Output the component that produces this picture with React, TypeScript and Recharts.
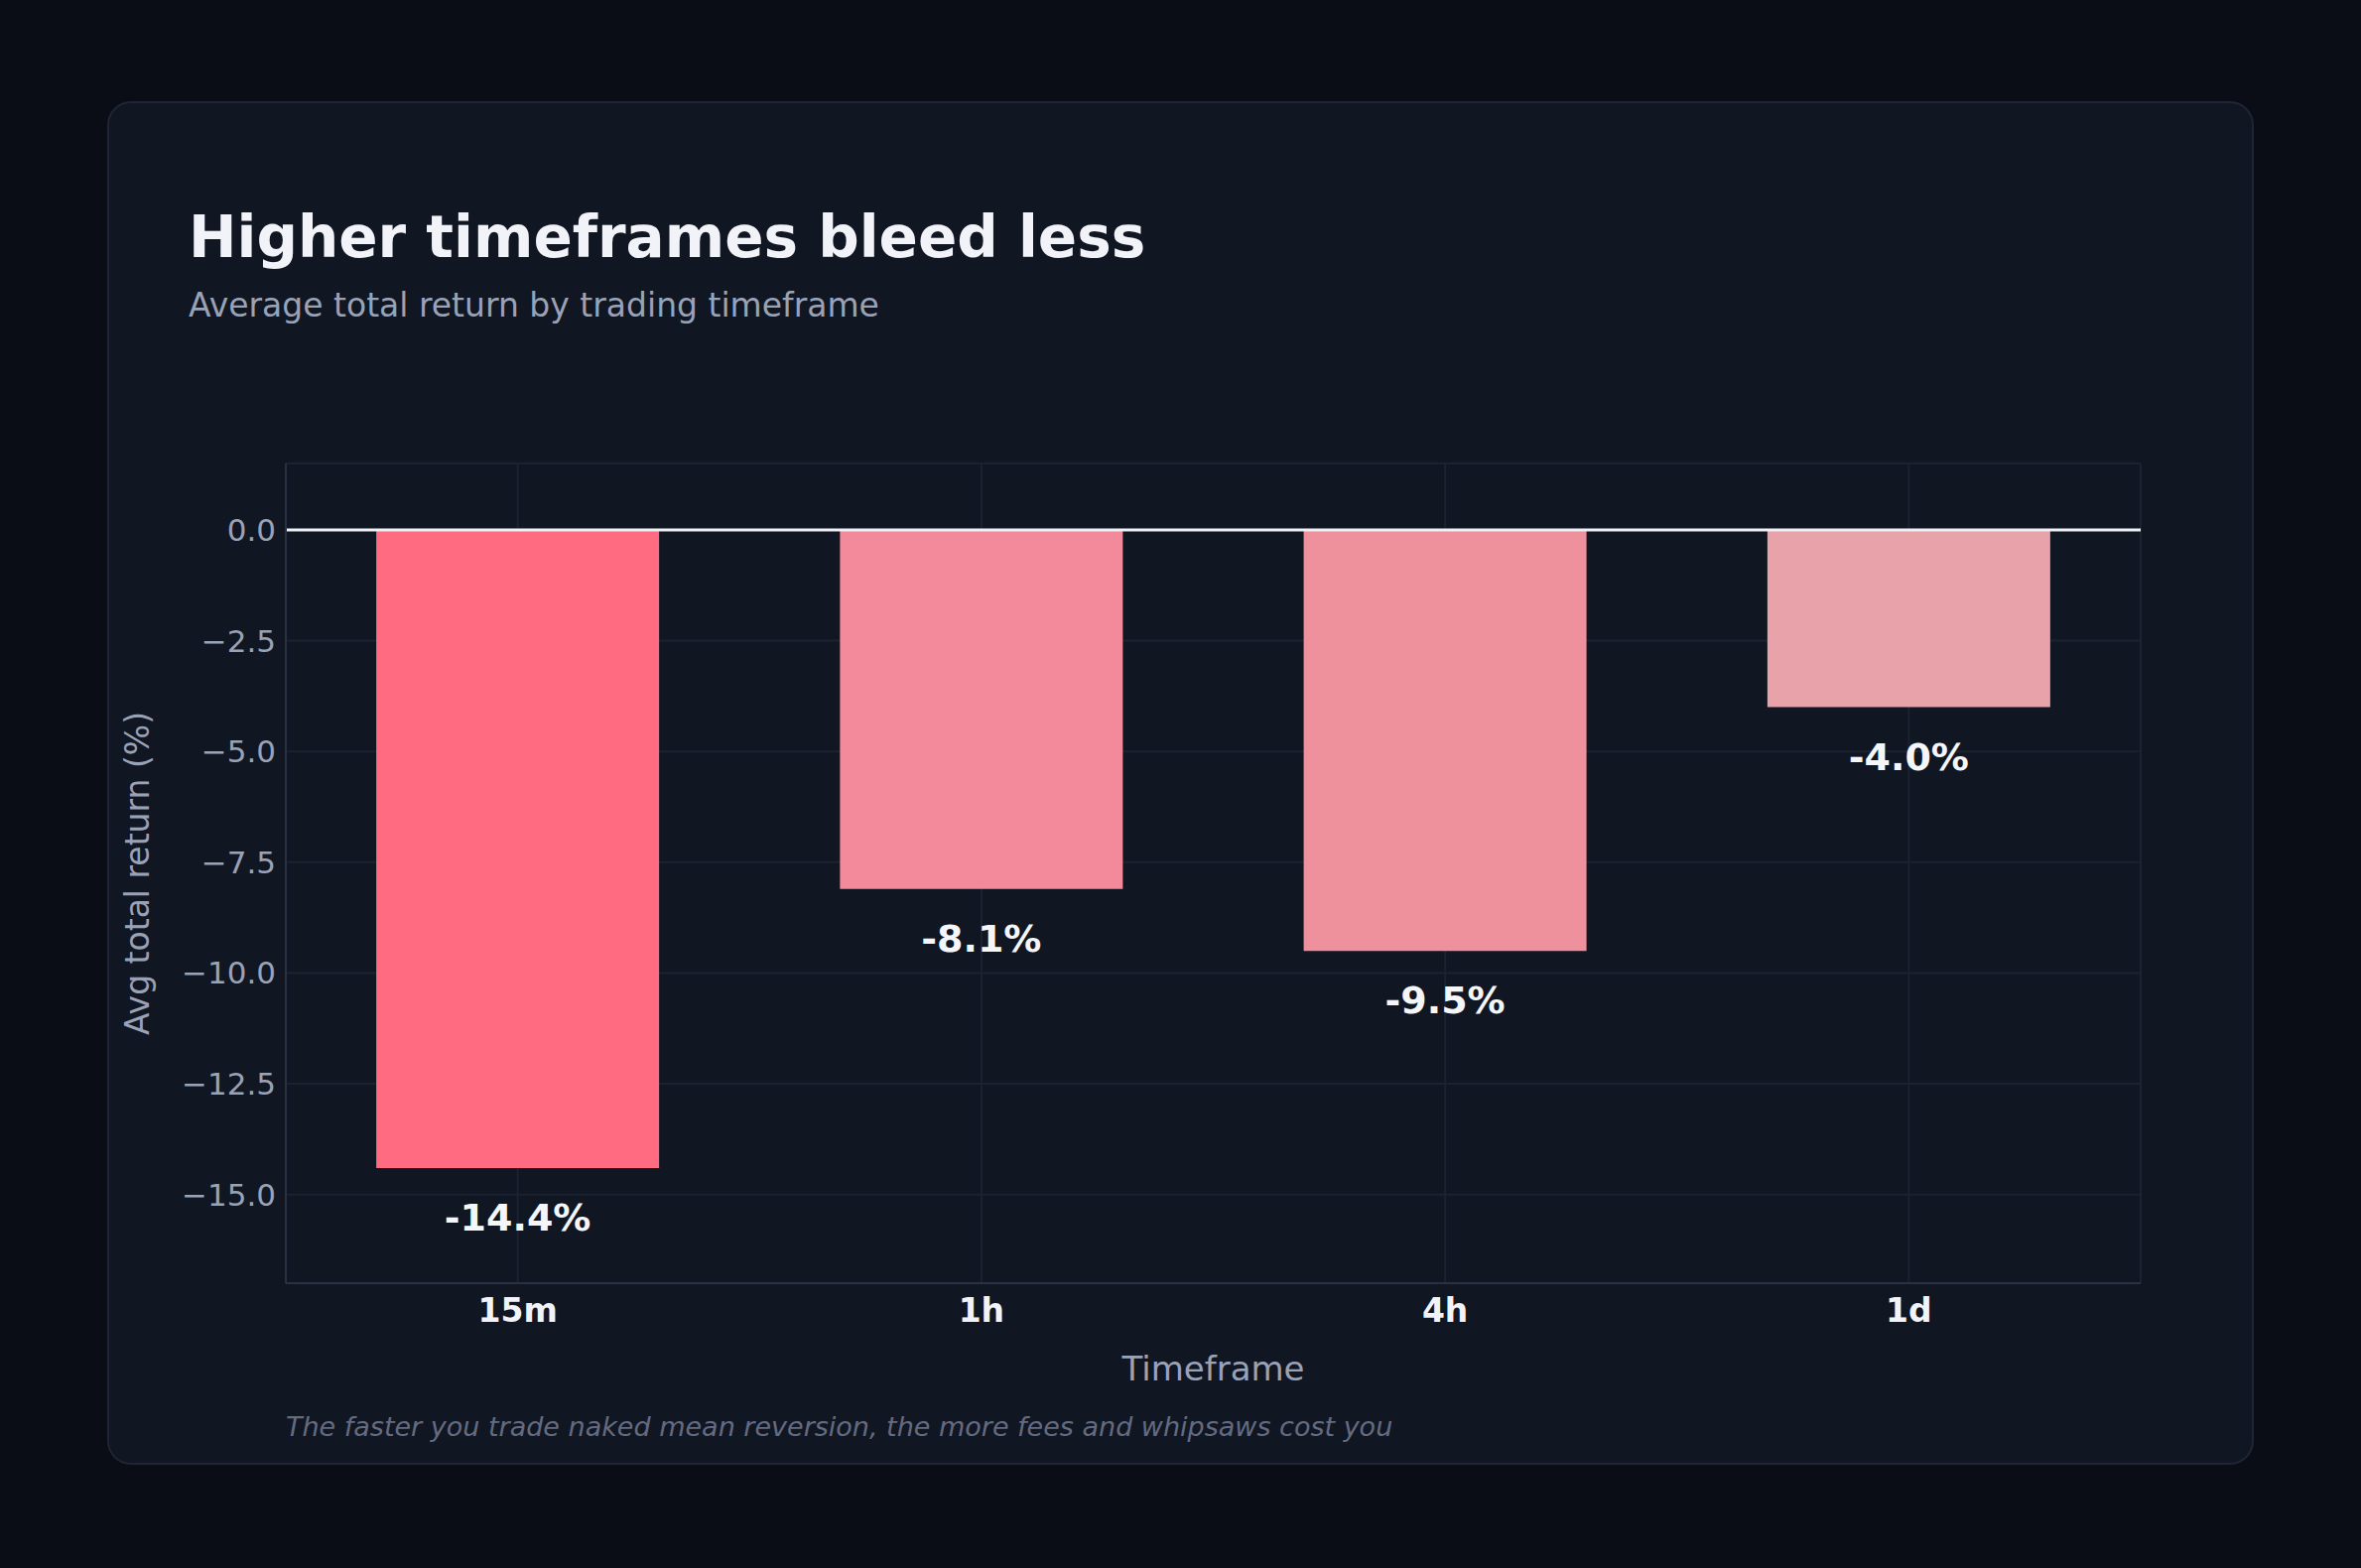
import { BarChart, Bar, XAxis, YAxis, CartesianGrid, ReferenceLine, Cell, LabelList, Label } from 'recharts';

const timeframes = ['15m', '1h', '4h', '1d'];
const avgReturns = [-14.4, -8.1, -9.5, -4.0];
const barColors = ['#ff6b81', '#f28a9b', '#ef909d', '#e8a2aa'];
const yTicks = [0, -2.5, -5, -7.5, -10, -12.5, -15];

const data = timeframes.map((tf, i) => ({ tf, value: avgReturns[i] }));

const font = '"DejaVu Sans", sans-serif';

const fmtTick = (v: number) => (v < 0 ? '\u2212' : '') + Math.abs(v).toFixed(1);

const BarValue = (props: any) => {
  const { x, y, width, height, value } = props;
  const bottom = Math.max(y, y + height);
  return (
    <text x={x + width / 2} y={bottom + 50} textAnchor="middle" dominantBaseline="central"
      fill="#f5f6fa" fontSize={38} fontWeight="bold" fontFamily={font}>
      {value.toFixed(1)}%
    </text>
  );
};

export default function App() {
  return (
    <div style={{ position: 'absolute', left: 0, top: 0, width: 2379, height: 1580, background: '#0a0d15', fontFamily: font }}>
      <div style={{ position: 'absolute', left: 108, top: 102, width: 2163, height: 1374, background: '#111623',
        border: '2px solid #1f2535', borderRadius: 24, boxSizing: 'border-box' }} />
      <div style={{ position: 'absolute', left: 190, top: 205, color: '#f1f3f8', fontSize: 58, fontWeight: 'bold' }}>
        Higher timeframes bleed less
      </div>
      <div style={{ position: 'absolute', left: 190, top: 288, color: '#9aa2b6', fontSize: 33 }}>
        Average total return by trading timeframe
      </div>
      <div style={{ position: 'absolute', left: 288, top: 1422, color: '#646b80', fontSize: 27, fontStyle: 'italic' }}>
        The faster you trade naked mean reversion, the more fees and whipsaws cost you
      </div>
      <div style={{ position: 'absolute', left: 0, top: 0 }}>
        <BarChart width={2379} height={1580} data={data} barCategoryGap="19.5%"
          margin={{ left: 188, right: 222, top: 467, bottom: 227 }}>
          <CartesianGrid stroke="#1d2231" strokeWidth={2} />
          <XAxis dataKey="tf" height={60} stroke="#2a3142" strokeWidth={2} tickLine={false}
            tick={{ fill: '#f1f3f8', fontSize: 33, fontWeight: 'bold', fontFamily: font }} tickMargin={10}>
            <Label value="Timeframe" position="bottom" offset={14} fill="#9aa2b6" fontSize={34} fontFamily={font} />
          </XAxis>
          <YAxis width={100} domain={[-17, 1.5]} ticks={yTicks} allowDataOverflow tickFormatter={fmtTick}
            stroke="#2a3142" strokeWidth={2} tickLine={false}
            tick={{ fill: '#9aa2b6', fontSize: 31, fontFamily: font }} tickMargin={4}>
            <Label value="Avg total return (%)" angle={-90} position="insideLeft" offset={-50}
              fill="#9aa2b6" fontSize={33} fontFamily={font} style={{ textAnchor: 'middle' }} />
          </YAxis>
          <Bar dataKey="value" isAnimationActive={false}>
            {data.map((d, i) => <Cell key={d.tf} fill={barColors[i]} />)}
            <LabelList dataKey="value" content={BarValue} />
          </Bar>
          <ReferenceLine y={0} stroke="#eef0f5" strokeWidth={3} />
        </BarChart>
      </div>
    </div>
  );
}
